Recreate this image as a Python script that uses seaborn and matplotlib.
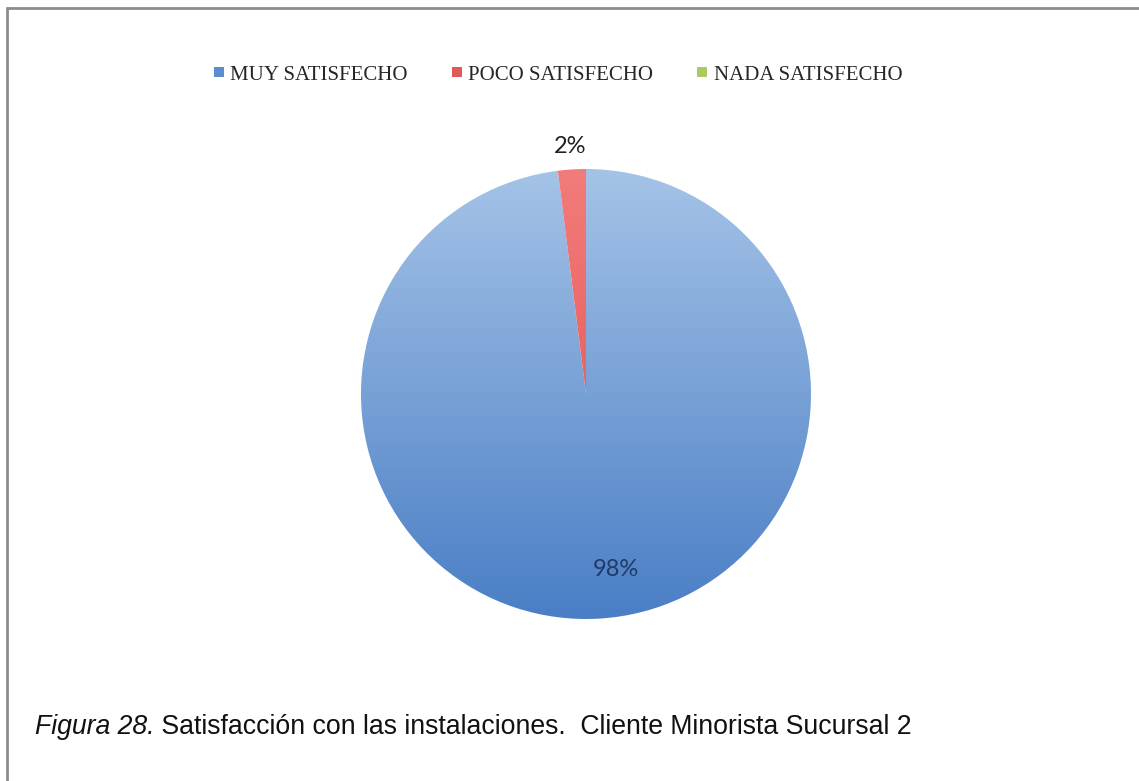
import numpy as np
import matplotlib
matplotlib.use("Agg")
import matplotlib.pyplot as plt
from matplotlib.lines import Line2D
from matplotlib.colors import LinearSegmentedColormap
import seaborn as sns

# Survey answers: satisfaction with the facilities
categories = ["MUY SATISFECHO", "POCO SATISFECHO", "NADA SATISFECHO"]
shares = [98, 2, 0]
pct_labels = ["98%", "2%", ""]

sns.set_theme(style="white")
plt.rcParams["font.family"] = ["Liberation Serif", "DejaVu Sans"]

# light-to-dark gradient stops for each slice (top, bottom)
grad_stops = [("#a5c3e7", "#4a7ec5"), ("#f27c7b", "#de4a48"), ("#c6dc8a", "#94b94c")]
legend_colors = sns.color_palette(["#5b8ed0", "#e05a5a", "#a9cb62"])

W, H = 1139, 781
fig = plt.figure(figsize=(W / 100, H / 100), dpi=100)
fig.patch.set_facecolor("white")

cx, cy, r = 586, 394, 225
ax = fig.add_axes([(cx - r) / W, (H - cy - r) / H, 2 * r / W, 2 * r / H])
ax.axis("off")

wedges, _ = ax.pie(shares, startangle=90, counterclock=False, radius=1,
                   colors=["none"] * 3, wedgeprops=dict(linewidth=0))
ax.set_xlim(-1, 1)
ax.set_ylim(-1, 1)
ax.set_aspect("auto")

# fill every slice with a vertical gradient clipped to its outline
ramp = np.linspace(0, 1, 256).reshape(-1, 1)
for w, (c_top, c_bot), v in zip(wedges, grad_stops, shares):
    if v <= 0:
        continue
    cmap = LinearSegmentedColormap.from_list("g", [c_top, c_bot])
    im = ax.imshow(ramp, cmap=cmap, extent=[-1, 1, -1, 1], origin="upper",
                   aspect="auto", zorder=1, interpolation="bilinear")
    im.set_clip_path(w)

# percentage labels placed along each slice's bisector
label_style = [
    dict(dist=0.78, shift=0.085, color="#1f3a68"),
    dict(dist=1.10, shift=0.0, color="#222222"),
    dict(dist=1.10, shift=0.0, color="#222222"),
]
for w, lab, st in zip(wedges, pct_labels, label_style):
    if not lab:
        continue
    mid = np.deg2rad((w.theta1 + w.theta2) / 2)
    x = st["dist"] * np.cos(mid) + st["shift"]
    y = st["dist"] * np.sin(mid)
    ax.text(x, y, lab, ha="center", va="center", fontsize=17,
            family=["Lato", "DejaVu Sans"], color=st["color"], zorder=3)

# legend across the top
handles = [Line2D([], [], marker="s", linestyle="none", markersize=7.5,
                  markerfacecolor=c, markeredgewidth=0) for c in legend_colors]
fig.legend(handles, categories, loc="center", bbox_to_anchor=(557 / W, (H - 75) / H),
           ncol=3, frameon=False, fontsize=15, handletextpad=0.2,
           columnspacing=2.0, handlelength=0.7)

# outer frame (top and left edges)
fig.add_artist(Line2D([7 / W, 1.0], [(H - 8) / H] * 2, transform=fig.transFigure,
                      color="#8c8c8c", linewidth=2))
fig.add_artist(Line2D([7 / W] * 2, [0, (H - 8) / H], transform=fig.transFigure,
                      color="#8c8c8c", linewidth=2))

# caption: italic figure number followed by the description
cap_y = (H - 727) / H
t1 = fig.text(35 / W, cap_y, "Figura 28.", style="italic", fontsize=19.2,
              family=["Liberation Sans"], va="center", ha="left", color="#111111")
fig.canvas.draw()
bb = t1.get_window_extent(fig.canvas.get_renderer())
fig.text(bb.x1 / W, cap_y, " Satisfacción con las instalaciones.  Cliente Minorista Sucursal 2",
         fontsize=19.2, family=["Liberation Sans"], va="center", ha="left", color="#111111")

fig.savefig("out.png", dpi=100, facecolor="white")
